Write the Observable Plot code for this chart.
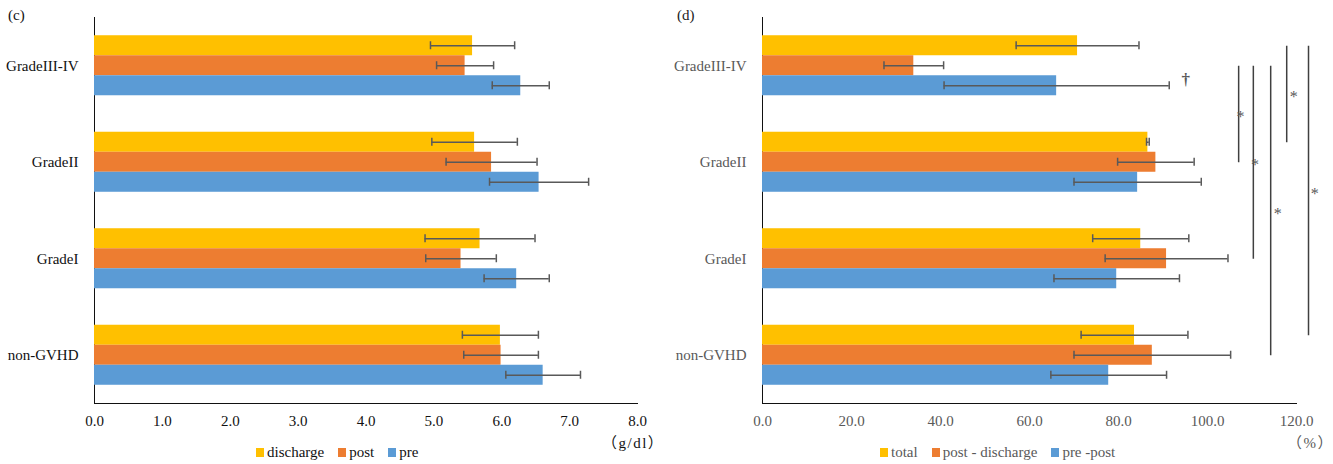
<!DOCTYPE html>
<html>
<head>
<meta charset="utf-8">
<script src="https://cdn.jsdelivr.net/npm/d3@7"></script>
<script src="https://cdn.jsdelivr.net/npm/@observablehq/plot@0.6"></script>
<style>
  body { margin: 0; background: #fff; }
  #page { position: relative; width: 1333px; height: 464px; overflow: hidden;
          font-family: "Liberation Serif", "Times New Roman", serif; }
  .panel { position: absolute; top: 0; }
  .tag, .unit { position: absolute; font-size: 15px; line-height: 18px; white-space: nowrap; }
  .unit { font-family: "Liberation Serif", "Noto Sans CJK JP", serif; letter-spacing: 1.5px; }
  .legend { position: absolute; display: flex; align-items: center; font-size: 15px;
            line-height: 18px; white-space: nowrap; }
  .legend .item { display: flex; align-items: center; margin-right: 14px; }
  .legend .sw { display: inline-block; width: 8px; height: 9px; margin-right: 3px; }
  .grey text { fill: #595959; }
</style>
</head>
<body>
<div id="page"></div>
<script>
// Patient groups, top to bottom
const groups = ["GradeIII-IV", "GradeII", "GradeI", "non-GVHD"];

// (c) values in g/dl: mean and SD per group
const albSeries = ["discharge", "post", "pre"];
const albColors = ["#FFC000", "#ED7D31", "#5B9BD5"];
const albDischarge = [5.57, 5.60, 5.68, 5.98];
const albDischargeSd = [0.62, 0.63, 0.81, 0.56];
const albPost = [5.46, 5.85, 5.40, 5.99];
const albPostSd = [0.42, 0.67, 0.52, 0.55];
const albPre = [6.28, 6.55, 6.22, 6.61];
const albPreSd = [0.42, 0.73, 0.48, 0.55];
const albTicks = [0, 1, 2, 3, 4, 5, 6, 7, 8];

// (d) values in %: mean and SD per group
const pctSeries = ["total", "post - discharge", "pre -post"];
const pctColors = ["#FFC000", "#ED7D31", "#5B9BD5"];
const pctTotal = [70.8, 86.6, 85.0, 83.6];
const pctTotalSd = [13.8, 0.3, 10.8, 12.0];
const pctPostDis = [34.0, 88.4, 90.8, 87.6];
const pctPostDisSd = [6.7, 8.6, 13.8, 17.6];
const pctPrePost = [66.1, 84.3, 79.6, 77.8];
const pctPrePostSd = [25.3, 14.3, 14.1, 13.0];
const pctTicks = [0, 20, 40, 60, 80, 100, 120];

// (d) significance brackets: compared series, the two groups, bracket x and asterisk x (in %)
const cmpSeries = ["post - discharge", "post - discharge", "post - discharge", "total", "total"];
const cmpFrom = ["GradeIII-IV", "GradeIII-IV", "GradeIII-IV", "GradeIII-IV", "GradeIII-IV"];
const cmpTo = ["GradeII", "GradeI", "non-GVHD", "GradeII", "non-GVHD"];
const cmpX = [107.0, 110.3, 114.2, 117.8, 122.7];
const cmpStarX = [107.4, 110.7, 115.8, 119.4, 124.1];

// (d) dagger mark next to the GradeIII-IV pre -post bar
const daggerGroup = ["GradeIII-IV"];
const daggerSeries = ["pre -post"];
const daggerX = [95.1];

const page = document.getElementById("page");
const FONT = '"Liberation Serif", "Times New Roman", serif';

function drawPanel({series, colors, means, sds, ticks, width, marginLeft, marginRight, className, extra}) {
  const height = 432, marginTop = 17, marginBottom = 29;
  const paddingInner = 0.378;
  const step = (height - marginTop - marginBottom) / groups.length;
  const bandwidth = step * (1 - paddingInner);
  const third = bandwidth / 3;
  const cap = 4;
  const rows = series.flatMap((s, i) =>
    groups.map((g, j) => ({group: g, series: s, value: means[i][j], sd: sds[i][j]})));
  const offset = (s) => (series.indexOf(s) - 1) * third;
  const errStyle = {stroke: "#595959", strokeWidth: 1.5};
  const marks = [];
  // three stacked bars inside each group band
  series.forEach((s, i) => {
    const d = rows.filter((r) => r.series === s);
    marks.push(Plot.barX(d, {x: "value", y: "group", fill: "series",
      insetTop: i * third, insetBottom: (2 - i) * third}));
  });
  // SD error bars with caps
  series.forEach((s, i) => {
    const d = rows.filter((r) => r.series === s);
    const c = i * third + third / 2;
    marks.push(Plot.ruleY(d, {y: "group", x1: (r) => r.value - r.sd, x2: (r) => r.value + r.sd,
      dy: offset(s), ...errStyle}));
    for (const sign of [-1, 1]) {
      marks.push(Plot.tickX(d, {x: (r) => r.value + sign * r.sd, y: "group",
        insetTop: c - cap, insetBottom: bandwidth - c - cap, ...errStyle}));
    }
  });
  if (extra) marks.push(...extra({offset, step}));
  return Plot.plot({
    width, height, marginTop, marginBottom, marginLeft, marginRight, className,
    style: {fontFamily: FONT, fontSize: "15px", color: "#111", background: "transparent", overflow: "visible"},
    x: {domain: [ticks[0], ticks[ticks.length - 1]], ticks, tickFormat: (d) => d.toFixed(1),
        tickSize: 0, tickPadding: 12, label: null, line: true},
    y: {domain: groups, paddingInner, paddingOuter: paddingInner / 2, round: false,
        tickSize: 0, tickPadding: 16, label: null, line: true},
    color: {domain: series, range: colors},
    marks
  });
}

function place(node, left, top, cls, color) {
  const el = document.createElement("div");
  el.className = cls;
  el.style.left = left + "px";
  el.style.top = top + "px";
  if (color) el.style.color = color;
  if (typeof node === "string") el.textContent = node; else el.appendChild(node);
  page.appendChild(el);
  return el;
}

function legend(series, colors, left, top, color) {
  const el = place("", left, top, "legend", color);
  series.forEach((s, i) => {
    const item = document.createElement("span");
    item.className = "item";
    const sw = document.createElement("span");
    sw.className = "sw";
    sw.style.background = colors[i];
    item.appendChild(sw);
    item.appendChild(document.createTextNode(s));
    el.appendChild(item);
  });
}

// (c)
const left = drawPanel({
  series: albSeries, colors: albColors,
  means: [albDischarge, albPost, albPre], sds: [albDischargeSd, albPostSd, albPreSd],
  ticks: albTicks, width: 666, marginLeft: 94, marginRight: 29
});
place(left, 0, 0, "panel");
place("(c)", 8, 6, "tag", "#111");
place("（g/dl）", 602, 434, "unit", "#111");
legend(albSeries, albColors, 256, 443, "#111");

// (d)
const right = drawPanel({
  series: pctSeries, colors: pctColors,
  means: [pctTotal, pctPostDis, pctPrePost], sds: [pctTotalSd, pctPostDisSd, pctPrePostSd],
  ticks: pctTicks, width: 667, marginLeft: 96, marginRight: 37, className: "grey",
  extra: ({offset, step}) => {
    const out = [];
    cmpX.forEach((x, k) => {
      const d = [{x, sx: cmpStarX[k], from: cmpFrom[k], to: cmpTo[k]}];
      const span = groups.indexOf(cmpTo[k]) - groups.indexOf(cmpFrom[k]);
      out.push(Plot.link(d, {x1: "x", x2: "x", y1: "from", y2: "to", dy: offset(cmpSeries[k]),
        stroke: "#404040", strokeWidth: 1.5}));
      out.push(Plot.text(d, {x: "sx", y: "from", text: () => "*", fill: "#595959",
        fontSize: 16, dy: offset(cmpSeries[k]) + span * step / 2 + 3}));
    });
    out.push(Plot.text(daggerX.map((x, k) => ({x, group: daggerGroup[k]})),
      {x: "x", y: "group", text: () => "†", fill: "#111", fontSize: 17, fontWeight: "bold",
       dy: offset(daggerSeries[0]) - 6}));
    return out;
  }
});
place(right, 666, 0, "panel");
place("(d)", 677, 6, "tag", "#222");
place("（%）", 1287, 434, "unit", "#595959");
legend(pctSeries, pctColors, 880, 443, "#595959");
</script>
</body>
</html>
